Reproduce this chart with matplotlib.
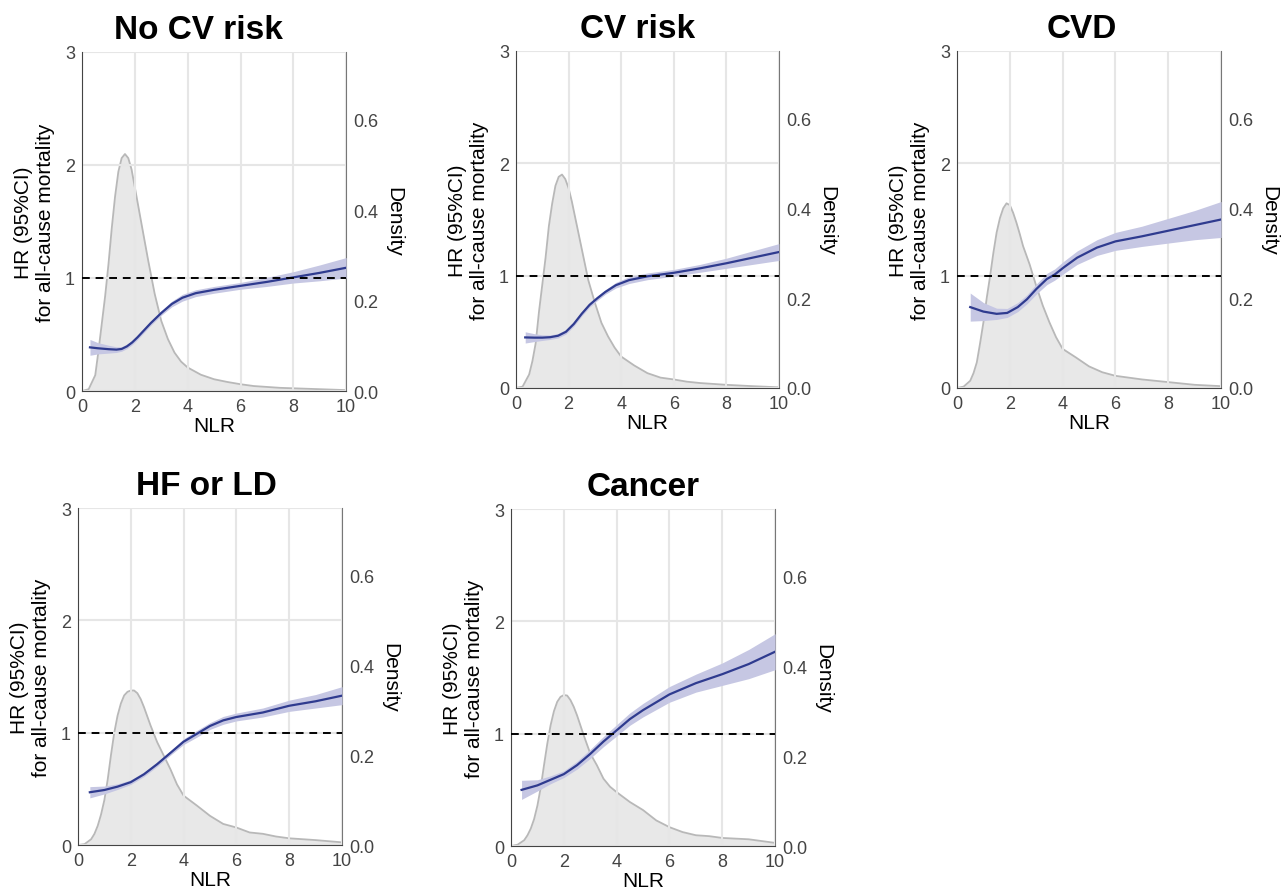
import numpy as np
import matplotlib.pyplot as plt

plt.rcParams['font.family'] = ['Liberation Sans', 'DejaVu Sans']

titles = ['No CV risk', 'CV risk', 'CVD', 'HF or LD', 'Cancer']

# density of NLR
dens_x = [0, 0.25, 0.5, 0.625, 0.75, 0.875, 1.0, 1.125, 1.25, 1.375, 1.5, 1.625, 1.75, 1.875,
          2.0, 2.125, 2.25, 2.375, 2.5, 2.75, 3.0, 3.25, 3.5, 3.75, 4.0, 4.5, 5.0, 5.5,
          6.0, 6.5, 7.0, 7.5, 8.0, 9.0, 10.0]
dens_nocv = [0, 0.004, 0.035, 0.09, 0.15, 0.21, 0.28, 0.36, 0.43, 0.485, 0.515, 0.524, 0.515, 0.49,
             0.45, 0.41, 0.37, 0.33, 0.29, 0.215, 0.155, 0.115, 0.085, 0.065, 0.052, 0.036, 0.026, 0.02,
             0.015, 0.011, 0.009, 0.007, 0.006, 0.004, 0.002]
dens_cvrisk = [0, 0.003, 0.03, 0.06, 0.1, 0.17, 0.23, 0.29, 0.36, 0.41, 0.45, 0.47, 0.475, 0.465,
               0.445, 0.415, 0.38, 0.345, 0.31, 0.24, 0.19, 0.145, 0.115, 0.09, 0.07, 0.05, 0.033, 0.023,
               0.019, 0.014, 0.011, 0.009, 0.007, 0.004, 0.0015]
dens_cvd = [0, 0.003, 0.016, 0.033, 0.057, 0.1, 0.146, 0.2, 0.248, 0.3, 0.346, 0.378, 0.40, 0.411,
            0.407, 0.39, 0.368, 0.343, 0.316, 0.275, 0.227, 0.183, 0.146, 0.113, 0.087, 0.068, 0.048, 0.035,
            0.027, 0.023, 0.019, 0.016, 0.013, 0.007, 0.004]
dens_hf = [0, 0.002, 0.013, 0.025, 0.043, 0.068, 0.10, 0.145, 0.2, 0.25, 0.288, 0.315, 0.333, 0.341,
           0.344, 0.344, 0.338, 0.325, 0.307, 0.266, 0.229, 0.199, 0.169, 0.135, 0.11, 0.088, 0.065, 0.047,
           0.039, 0.028, 0.025, 0.019, 0.015, 0.011, 0.006]
dens_cancer = [0, 0.003, 0.013, 0.024, 0.039, 0.06, 0.09, 0.13, 0.18, 0.228, 0.269, 0.3, 0.321, 0.332,
               0.336, 0.335, 0.325, 0.31, 0.291, 0.247, 0.206, 0.18, 0.15, 0.132, 0.12, 0.098, 0.08, 0.057,
               0.042, 0.031, 0.024, 0.022, 0.018, 0.015, 0.007]
densities = [dens_nocv, dens_cvrisk, dens_cvd, dens_hf, dens_cancer]

# hazard ratio curves with 95% CI half-widths
hr_x_nocv = [0.3, 0.6, 1.0, 1.3, 1.5, 1.7, 1.9, 2.1, 2.3, 2.6, 3.0, 3.4, 3.8, 4.3, 5.0, 6.0, 7.0, 8.0, 9.0, 10.0]
hr_nocv = [0.386, 0.378, 0.370, 0.366, 0.372, 0.395, 0.43, 0.475, 0.525, 0.60, 0.69, 0.77, 0.825, 0.865,
           0.895, 0.93, 0.965, 1.005, 1.045, 1.09]
ci_nocv = [0.07, 0.05, 0.035, 0.025, 0.02, 0.02, 0.02, 0.02, 0.02, 0.02, 0.02, 0.025, 0.03, 0.03,
           0.03, 0.03, 0.04, 0.05, 0.07, 0.09]

hr_x_cvrisk = [0.35, 0.7, 1.0, 1.3, 1.6, 1.9, 2.2, 2.5, 2.8, 3.1, 3.4, 3.8, 4.3, 5.0, 6.0, 7.0, 8.0, 9.0, 10.0]
hr_cvrisk = [0.45, 0.448, 0.448, 0.452, 0.465, 0.50, 0.57, 0.66, 0.74, 0.80, 0.855, 0.915, 0.96, 0.994,
             1.025, 1.065, 1.11, 1.16, 1.21]
ci_cvrisk = [0.05, 0.035, 0.025, 0.02, 0.02, 0.02, 0.02, 0.02, 0.02, 0.02, 0.02, 0.025, 0.03, 0.03,
             0.03, 0.035, 0.045, 0.06, 0.075]

hr_x_cvd = [0.5, 1.0, 1.5, 1.9, 2.3, 2.65, 3.0, 3.4, 3.7, 4.05, 4.55, 5.3, 6.0, 7.0, 8.0, 9.0, 10.0]
hr_cvd = [0.72, 0.68, 0.66, 0.668, 0.72, 0.79, 0.88, 0.97, 1.01, 1.075, 1.16, 1.25, 1.305, 1.35, 1.40, 1.45, 1.50]
ci_cvd = [0.125, 0.08, 0.05, 0.04, 0.04, 0.04, 0.045, 0.05, 0.05, 0.055, 0.06, 0.07, 0.08, 0.09, 0.11, 0.13, 0.16]

hr_x_hf = [0.45, 1.0, 1.5, 2.0, 2.5, 3.0, 3.5, 4.0, 4.5, 5.0, 5.5, 6.0, 7.0, 8.0, 9.0, 10.0]
hr_hf = [0.47, 0.49, 0.52, 0.56, 0.63, 0.72, 0.82, 0.92, 0.99, 1.06, 1.11, 1.14, 1.18, 1.24, 1.28, 1.33]
ci_hf = [0.05, 0.035, 0.025, 0.02, 0.02, 0.02, 0.02, 0.025, 0.03, 0.03, 0.035, 0.035, 0.04, 0.05, 0.06, 0.08]

hr_x_cancer = [0.4, 1.0, 1.5, 2.0, 2.5, 3.0, 3.5, 4.0, 4.5, 5.0, 6.0, 7.0, 8.0, 9.0, 10.0]
hr_cancer = [0.50, 0.54, 0.59, 0.64, 0.72, 0.82, 0.93, 1.03, 1.13, 1.21, 1.35, 1.45, 1.53, 1.62, 1.73]
ci_cancer = [0.085, 0.05, 0.035, 0.03, 0.035, 0.04, 0.045, 0.05, 0.055, 0.06, 0.07, 0.08, 0.1, 0.13, 0.16]

hr_xs = [hr_x_nocv, hr_x_cvrisk, hr_x_cvd, hr_x_hf, hr_x_cancer]
hrs = [hr_nocv, hr_cvrisk, hr_cvd, hr_hf, hr_cancer]
cis = [ci_nocv, ci_cvrisk, ci_cvd, ci_hf, ci_cancer]

# axes boxes in figure fractions [left, bottom, width, height]
boxes = [[0.064, 0.562, 0.206, 0.379],
         [0.4025, 0.5654, 0.205, 0.3765],
         [0.7465, 0.5654, 0.206, 0.3765],
         [0.0608, 0.0547, 0.206, 0.3765],
         [0.3986, 0.0536, 0.206, 0.3765]]
title_x = [0.44, 0.464, 0.473, 0.485, 0.5]   # titles are not quite centred in the original

fig = plt.figure(figsize=(12.82, 8.95), dpi=100)

for i in range(5):
    ax = fig.add_axes(boxes[i])
    ax2 = ax.twinx()
    # density behind the HR curve
    ax.set_zorder(ax2.get_zorder() + 1)
    ax.patch.set_visible(False)
    ax2.set_facecolor('white')

    ax2.fill_between(dens_x, densities[i], 0, color='#e8e8e8', lw=0)
    ax2.plot(dens_x, densities[i], color='#b8b8b8', lw=1.3)
    ax2.set_ylim(0, 0.75)
    ax2.set_yticks([0.0, 0.2, 0.4, 0.6])
    ax2.set_yticklabels(['0.0', '0.2', '0.4', '0.6'])
    ax2.set_ylabel('Density', rotation=270, fontsize=15, labelpad=18)

    x = np.array(hr_xs[i])
    y = np.array(hrs[i])
    c = np.array(cis[i])
    ax.grid(True, color='#e6e6e6', lw=1.5, zorder=0)
    ax.set_axisbelow(True)
    ax.fill_between(x, y - c, y + c, color='#c6c7e3', lw=0, zorder=2)
    ax.plot(x, y, color='#2f3b8f', lw=1.6, zorder=3)
    ax.axhline(1, color='black', ls=(0, (4, 3)), lw=1.4, zorder=4)

    ax.set_xlim(0, 10)
    ax.set_ylim(0, 3)
    ax.set_xticks([0, 2, 4, 6, 8, 10])
    ax.set_yticks([0, 1, 2, 3])
    ax.set_xlabel('NLR', fontsize=15, labelpad=1)
    ax.set_ylabel('HR (95%CI)\nfor all-cause mortality', fontsize=15, labelpad=7)
    ax.set_title(titles[i], fontsize=24, fontweight='bold', pad=10, x=title_x[i])

    for a in (ax, ax2):
        a.tick_params(length=0, labelsize=13, labelcolor='#444444', pad=5)
        a.spines['top'].set_visible(False)
    ax.spines['left'].set_color('#444444')
    ax.spines['bottom'].set_color('#444444')
    ax2.spines['right'].set_color('#777777')
    ax2.spines['left'].set_visible(False)
    ax2.spines['bottom'].set_visible(False)
    ax.spines['right'].set_visible(False)

fig.savefig('out.png', dpi=100)
